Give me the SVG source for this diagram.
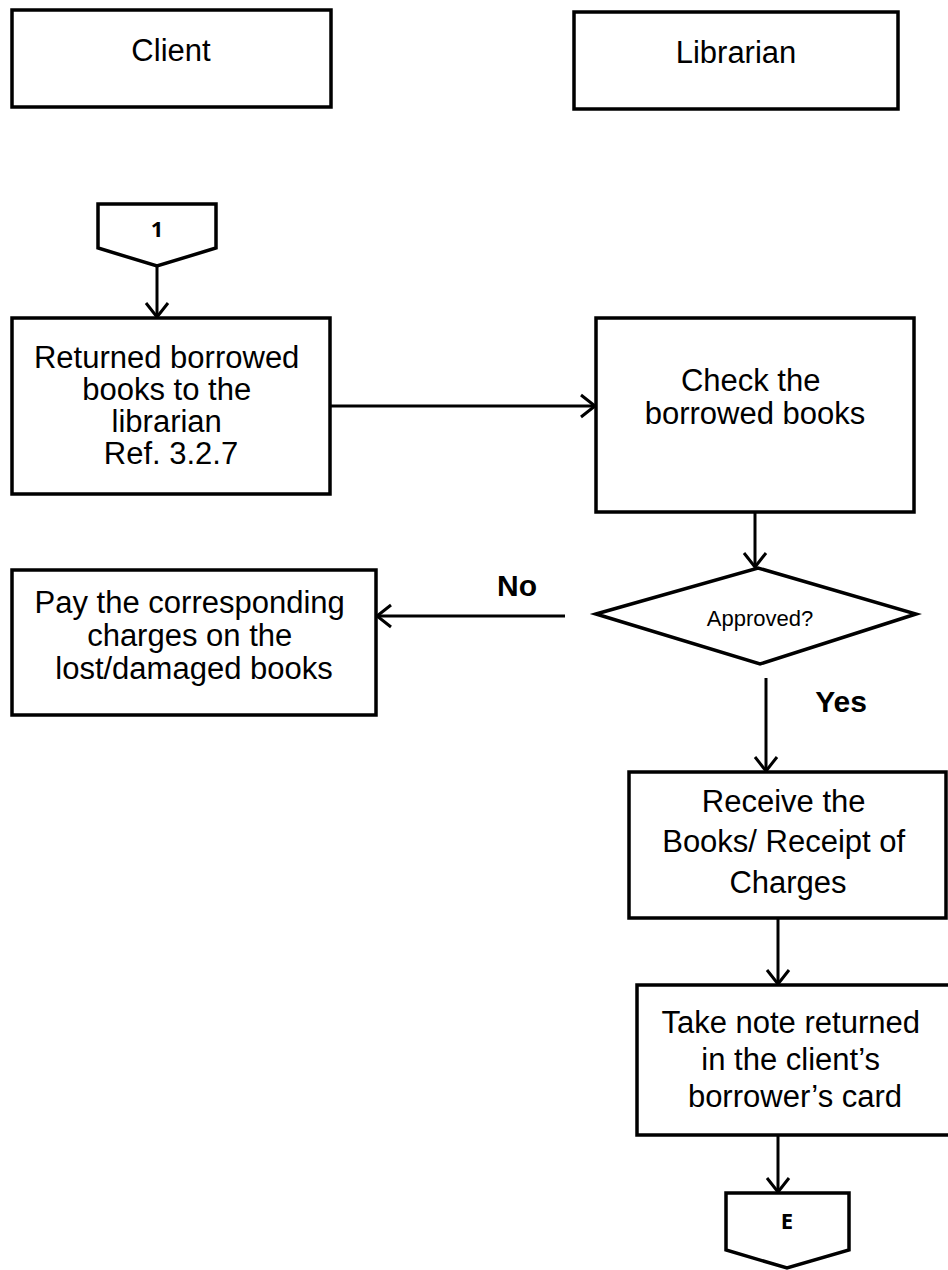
<svg xmlns="http://www.w3.org/2000/svg" width="948" height="1270" viewBox="0 0 948 1270">
  <style>
    .box { fill: #fff; stroke: #000; stroke-width: 3.5; }
    .conn { fill: none; stroke: #000; stroke-width: 3; }
    .t { font-family: "Liberation Sans", Arial, sans-serif; font-size: 31px; fill: #000; text-anchor: middle; }
    .small { font-family: "Liberation Sans", Arial, sans-serif; font-size: 22px; fill: #000; text-anchor: middle; }
    .lbl { font-family: "Liberation Sans", Arial, sans-serif; font-size: 30px; font-weight: bold; fill: #000; text-anchor: middle; }
    .ref { font-family: "Open Sans", "Liberation Sans", sans-serif; font-size: 22px; font-weight: bold; fill: #000; text-anchor: middle; }
  </style>
  <defs>
    <marker id="arrow" markerUnits="userSpaceOnUse" markerWidth="20" markerHeight="26" viewBox="0 0 20 26" refX="17" refY="13" orient="auto">
      <path d="M3,2 L17,13 L3,24" fill="none" stroke="#000" stroke-width="3"/>
    </marker>
  </defs>

  <!-- swimlane headers -->
  <g id="lane-client">
    <rect class="box" x="12" y="10" width="319" height="97"/>
    <text class="t" x="171" y="61">Client</text>
  </g>
  <g id="lane-librarian">
    <rect class="box" x="574" y="12" width="324" height="97"/>
    <text class="t" x="736" y="63">Librarian</text>
  </g>

  <!-- connectors -->
  <g id="connectors">
    <line class="conn" x1="157" y1="266" x2="157" y2="317" marker-end="url(#arrow)"/>
    <line class="conn" x1="330" y1="406" x2="595" y2="406" marker-end="url(#arrow)"/>
    <line class="conn" x1="755" y1="512" x2="755" y2="567" marker-end="url(#arrow)"/>
    <line class="conn" x1="565" y1="616" x2="377" y2="616" marker-end="url(#arrow)"/>
    <line class="conn" x1="766" y1="678" x2="766" y2="771" marker-end="url(#arrow)"/>
    <line class="conn" x1="778" y1="918" x2="778" y2="984" marker-end="url(#arrow)"/>
    <line class="conn" x1="778" y1="1135" x2="778" y2="1192" marker-end="url(#arrow)"/>
    <text class="lbl" x="517" y="596">No</text>
    <text class="lbl" x="841" y="712">Yes</text>
  </g>

  <!-- on-page connector: start -->
  <g id="start-1">
    <path class="box" d="M98,204 L216,204 L216,248 L157,266 L98,248 Z"/>
    <text class="ref" x="157" y="237">1</text>
  </g>

  <g id="return-books">
    <rect class="box" x="12" y="318" width="318" height="176"/>
    <text class="t" x="171">
      <tspan x="171" y="368">Returned borrowed</tspan>
      <tspan x="171" y="400">books to the</tspan>
      <tspan x="171" y="432">librarian</tspan>
      <tspan x="171" y="464">Ref. 3.2.7</tspan>
    </text>
  </g>

  <g id="check-books">
    <rect class="box" x="596" y="318" width="318" height="194"/>
    <text class="t" x="755">
      <tspan x="755" y="391">Check the</tspan>
      <tspan x="755" y="424">borrowed books</tspan>
    </text>
  </g>

  <g id="approved">
    <path class="box" d="M596,614 L758,568 L916,614 L760,664 Z"/>
    <text class="small" x="760" y="626">Approved?</text>
  </g>

  <g id="pay-charges">
    <rect class="box" x="12" y="570" width="364" height="145"/>
    <text class="t" x="194">
      <tspan x="194" y="613">Pay the corresponding</tspan>
      <tspan x="194" y="646">charges on the</tspan>
      <tspan x="194" y="679">lost/damaged books</tspan>
    </text>
  </g>

  <g id="receive-books">
    <rect class="box" x="629" y="772" width="317" height="146"/>
    <text class="t" x="788">
      <tspan x="788" y="812">Receive the</tspan>
      <tspan x="788" y="852">Books/ Receipt of</tspan>
      <tspan x="788" y="893">Charges</tspan>
    </text>
  </g>

  <g id="take-note">
    <rect class="box" x="637" y="985" width="313" height="150"/>
    <text class="t" x="795">
      <tspan x="795" y="1033">Take note returned</tspan>
      <tspan x="795" y="1070">in the client’s</tspan>
      <tspan x="795" y="1107">borrower’s card</tspan>
    </text>
  </g>

  <!-- on-page connector: end -->
  <g id="end-E">
    <path class="box" d="M726,1193 L849,1193 L849,1250 L787,1268 L726,1250 Z"/>
    <text class="ref" x="787" y="1229">E</text>
  </g>
</svg>
